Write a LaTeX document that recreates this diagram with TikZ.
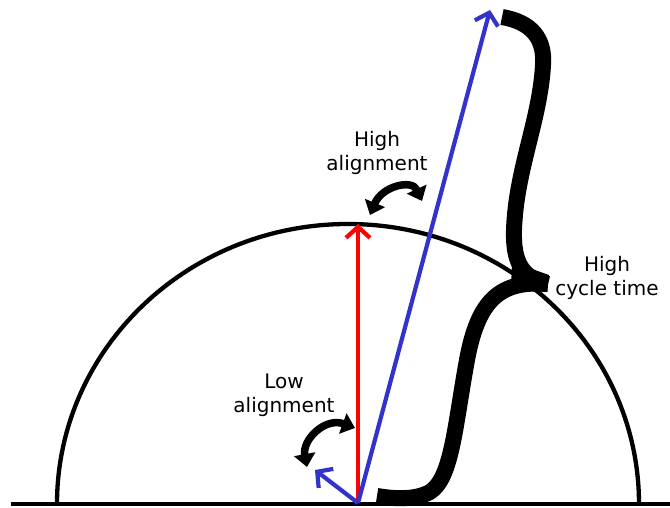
\documentclass[tikz,border=0pt]{standalone}
\usepackage{fontspec}
\setmainfont{DejaVu Sans}
\usetikzlibrary{arrows.meta}
\definecolor{vblue}{RGB}{51,51,204}
\tikzset{
  vec/.style={line width=4.2pt,-{Straight Barb[length=11pt,width=24pt,line width=4.2pt]}},
  turn/.style={line width=7.5pt,{Triangle[length=13pt,width=21pt]}-{Triangle[length=13pt,width=21pt]}},
  lbl/.style={font=\fontsize{20}{24}\selectfont,align=center,inner sep=0pt},
  bracestroke/.style={line width=16pt,line cap=butt,line join=round}
}
\begin{document}
\begin{tikzpicture}[x=1pt,y=-1pt]
\useasboundingbox (0,0) rectangle (670,508);
% baseline and half ellipse
\draw[line width=4.3pt] (11,504) -- (670,504);
\draw[line width=4.3pt] (57,504) arc[start angle=180,end angle=360,x radius=291,y radius=280];
% vectors
\coordinate (O) at (358,503);
\coordinate (R) at (358,224);
\coordinate (B) at (490,10);
\coordinate (S) at (315,470);
\draw[vec,red] (O) -- (R);
\draw[vec,vblue] (O) -- (B);
\draw[vec,vblue] (O) -- (S);
% curved double arrows
\coordinate (h1) at (370,215);
\coordinate (h2) at (422,201);
\draw[turn] (h1) .. controls (382,186) and (412,179) .. (h2);
\coordinate (l1) at (355,428);
\coordinate (l2) at (307,467);
\draw[turn] (l1) .. controls (325,417) and (302,440) .. (l2);
% brace
\coordinate (bt) at (502,17);
\coordinate (bm) at (548,284);
\coordinate (bb) at (377,496);
\fill (512,262) -- (549,275) -- (547,292) -- (511,290) -- cycle;
\draw[bracestroke] (bt) .. controls (531,22) and (545,38) .. (543,65)
  .. controls (540,120) and (516,170) .. (514,230)
  .. controls (513,262) and (522,278) .. (bm);
\draw[bracestroke] (bm) .. controls (500,280) and (478,300) .. (467,360)
  .. controls (455,425) and (452,478) .. (430,492)
  .. controls (415,500) and (395,499) .. (bb);
% labels
\node[lbl] (hi) at (377,153) {High\\alignment};
\node[lbl] (lo) at (284,395) {Low\\alignment};
\node[lbl] (ct) at (607,278) {High\\cycle time};
\end{tikzpicture}
\end{document}
